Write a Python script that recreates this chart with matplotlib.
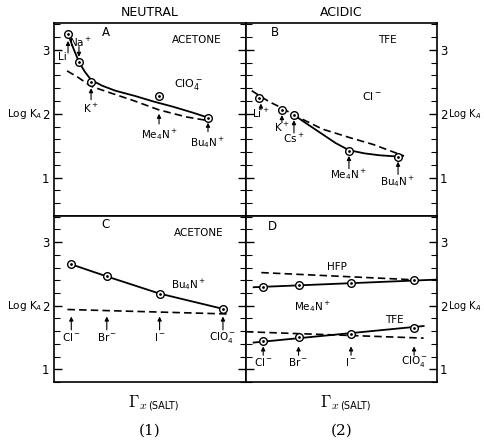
import matplotlib.pyplot as plt
from matplotlib.ticker import MultipleLocator, NullLocator

plt.rcParams['font.family'] = ['DejaVu Sans']
plt.rcParams['mathtext.fontset'] = 'dejavusans'
FS = 7.5

# panel A: neutral, acetone, ClO4- salts
cats_A = ['Li', 'Na$^+$', 'K$^+$', 'Me$_4$N$^+$', 'Bu$_4$N$^+$']
x_A = [0.073, 0.13, 0.193, 0.547, 0.802]
y_A = [3.25, 2.81, 2.50, 2.27, 1.94]
fit_x_A = [0.073, 0.10, 0.13, 0.16, 0.193, 0.25, 0.32, 0.42, 0.52, 0.62, 0.72, 0.802]
fit_y_A = [3.25, 3.03, 2.81, 2.66, 2.53, 2.44, 2.36, 2.28, 2.19, 2.11, 2.02, 1.94]
dash_x_A = [0.068, 0.12, 0.193, 0.30, 0.41, 0.547, 0.69, 0.787]
dash_y_A = [2.67, 2.58, 2.43, 2.32, 2.21, 2.06, 1.95, 1.90]

# panel B: acidic, TFE, Cl- salts
cats_B = ['Li$^+$', 'K$^+$', 'Cs$^+$', 'Me$_4$N$^+$', 'Bu$_4$N$^+$']
x_B = [0.068, 0.188, 0.251, 0.539, 0.796]
y_B = [2.25, 2.06, 1.98, 1.42, 1.33]
fit_x_B = [0.251, 0.33, 0.40, 0.47, 0.539, 0.62, 0.70, 0.796, 0.82]
fit_y_B = [1.98, 1.82, 1.68, 1.54, 1.43, 1.38, 1.35, 1.33, 1.34]
dash_x_B = [0.03, 0.12, 0.188, 0.251, 0.40, 0.55, 0.665, 0.827]
dash_y_B = [2.36, 2.19, 2.09, 1.98, 1.76, 1.62, 1.52, 1.34]

# panels C and D: anions
anions = ['Cl$^-$', 'Br$^-$', 'I$^-$', 'ClO$_4^-$']
x_an = [0.09, 0.275, 0.55, 0.88]
y_C = [2.65, 2.46, 2.19, 1.95]
dash_x_C = [0.07, 0.90]
dash_y_C = [1.94, 1.87]

y_D_hfp = [2.30, 2.33, 2.35, 2.40]
line_x_D_hfp = [0.04, 1.0]
line_y_D_hfp = [2.29, 2.41]
dash_x_D_hfp = [0.08, 0.86]
dash_y_D_hfp = [2.52, 2.41]

y_D_tfe = [1.44, 1.51, 1.55, 1.65]
line_x_D_tfe = [0.04, 0.93]
line_y_D_tfe = [1.42, 1.68]
dash_x_D_tfe = [0.0, 0.93]
dash_y_D_tfe = [1.59, 1.49]

fig = plt.figure(figsize=(4.84, 4.41), dpi=100)
L, M, R = 54 / 484, 246 / 484, 437 / 484
T, H, B = 1 - 23 / 441, 1 - 216 / 441, 1 - 382 / 441
axA = fig.add_axes([L, H, M - L, T - H])
axB = fig.add_axes([M, H, R - M, T - H])
axC = fig.add_axes([L, B, M - L, H - B])
axD = fig.add_axes([M, B, R - M, H - B])

for ax in (axA, axB, axC, axD):
    ax.set_xlim(0, 1)
    ax.xaxis.set_major_locator(NullLocator())
    ax.yaxis.set_major_locator(MultipleLocator(1))
    ax.yaxis.set_minor_locator(MultipleLocator(0.2))
    ax.tick_params(axis='y', which='both', direction='in', left=True, right=True,
                   labelsize=FS + 1)
    ax.tick_params(axis='y', which='major', length=6, width=1)
    ax.tick_params(axis='y', which='minor', length=4, width=0.8)
    for s in ax.spines.values():
        s.set_linewidth(1.2)
for ax in (axA, axB):
    ax.set_ylim(0.4, 3.42)
for ax in (axC, axD):
    ax.set_ylim(0.8, 3.41)
for ax in (axA, axC):
    ax.tick_params(axis='y', labelleft=True, labelright=False)
for ax in (axB, axD):
    ax.tick_params(axis='y', labelleft=False, labelright=True, pad=2)


def pts(ax, x, y):
    ax.plot(x, y, 'o', ms=5.5, mfc='white', mec='black', mew=1, zorder=4)
    ax.plot(x, y, '.', ms=2, color='black', zorder=5)


def arrow(ax, x, ytail, ytip):
    ax.annotate('', xy=(x, ytip), xytext=(x, ytail),
                arrowprops=dict(arrowstyle='-|>', lw=0.8, color='black',
                                mutation_scale=6, shrinkA=0, shrinkB=0))


def tag(ax, text, x, yt, ytail, ytip):
    ax.text(x, yt, text, fontsize=FS, ha='center', va='center')
    arrow(ax, x, ytail, ytip)


DASH = (4.5, 2.5)

# A
axA.plot(fit_x_A, fit_y_A, color='black', lw=1.3)
axA.plot(dash_x_A, dash_y_A, color='black', lw=1.2, dashes=DASH)
pts(axA, x_A, y_A)
axA.text(0.27, 3.27, 'A', fontsize=FS + 1, ha='center', va='center')
axA.text(0.745, 3.16, 'ACETONE', fontsize=FS, ha='center', va='center')
axA.text(0.70, 2.45, 'ClO$_4^-$', fontsize=FS + 0.5, ha='center', va='center')
axA.text(0.045, 2.89, cats_A[0], fontsize=FS, ha='center', va='center')
arrow(axA, x_A[0], y_A[0] - 0.3, y_A[0] - 0.11)
axA.text(0.14, 3.11, cats_A[1], fontsize=FS, ha='center', va='center')
arrow(axA, x_A[1], y_A[1] + 0.24, y_A[1] + 0.08)
tag(axA, cats_A[2], x_A[2], 2.09, y_A[2] - 0.28, y_A[2] - 0.1)
tag(axA, cats_A[3], x_A[3], 1.67, 1.84, 2.0)
tag(axA, cats_A[4], x_A[4], 1.55, 1.72, 1.86)
axA.text(-0.06, 2.0, 'Log K$_A$', fontsize=FS, ha='right', va='center',
         transform=axA.get_yaxis_transform())

# B
axB.plot(fit_x_B, fit_y_B, color='black', lw=1.3)
axB.plot(dash_x_B, dash_y_B, color='black', lw=1.2, dashes=DASH)
pts(axB, x_B, y_B)
axB.text(0.15, 3.27, 'B', fontsize=FS + 1, ha='center', va='center')
axB.text(0.74, 3.16, 'TFE', fontsize=FS, ha='center', va='center')
axB.text(0.66, 2.27, 'Cl$^-$', fontsize=FS + 0.5, ha='center', va='center')
tag(axB, cats_B[0], x_B[0] + 0.01, 2.0, 2.06, 2.16)
tag(axB, cats_B[1], x_B[1], 1.78, 1.86, 1.98)
tag(axB, cats_B[2], x_B[2], 1.62, 1.7, 1.9)
tag(axB, cats_B[3], x_B[3], 1.05, 1.14, 1.34)
tag(axB, cats_B[4], x_B[4], 0.94, 1.05, 1.25)
axB.text(1.06, 2.0, 'Log K$_A$', fontsize=FS - 0.5, ha='left', va='center',
         transform=axB.get_yaxis_transform())

# C
axC.plot(x_an, y_C, color='black', lw=1.3)
axC.plot(dash_x_C, dash_y_C, color='black', lw=1.2, dashes=DASH)
pts(axC, x_an, y_C)
axC.text(0.27, 3.28, 'C', fontsize=FS + 1, ha='center', va='center')
axC.text(0.755, 3.15, 'ACETONE', fontsize=FS, ha='center', va='center')
axC.text(0.70, 2.33, 'Bu$_4$N$^+$', fontsize=FS, ha='center', va='center')
for a, x in zip(anions, x_an):
    tag(axC, a, x, 1.5, 1.62, 1.83)
axC.text(-0.06, 2.0, 'Log K$_A$', fontsize=FS, ha='right', va='center',
         transform=axC.get_yaxis_transform())

# D
axD.plot(line_x_D_hfp, line_y_D_hfp, color='black', lw=1.3)
axD.plot(dash_x_D_hfp, dash_y_D_hfp, color='black', lw=1.2, dashes=DASH)
pts(axD, x_an, y_D_hfp)
axD.plot(line_x_D_tfe, line_y_D_tfe, color='black', lw=1.3)
axD.plot(dash_x_D_tfe, dash_y_D_tfe, color='black', lw=1.2, dashes=DASH)
pts(axD, x_an, y_D_tfe)
axD.text(0.14, 3.25, 'D', fontsize=FS + 1, ha='center', va='center')
axD.text(0.475, 2.61, 'HFP', fontsize=FS, ha='center', va='center')
axD.text(0.35, 1.98, 'Me$_4$N$^+$', fontsize=FS, ha='center', va='center')
axD.text(0.775, 1.78, 'TFE', fontsize=FS, ha='center', va='center')
for a, x in zip(anions, x_an):
    tag(axD, a, x, 1.12, 1.22, 1.36)
axD.text(1.06, 2.0, 'Log K$_A$', fontsize=FS - 0.5, ha='left', va='center',
         transform=axD.get_yaxis_transform())

# titles and bottom labels
fig.text((L + M) / 2, 1 - 12 / 441, 'NEUTRAL', fontsize=FS + 1.5, ha='center', va='center')
fig.text((M + R) / 2, 1 - 12 / 441, 'ACIDIC', fontsize=FS + 1.5, ha='center', va='center')
for cx, num in (((L + M) / 2, '(1)'), ((M + R) / 2, '(2)')):
    fig.text(cx - 0.005, 1 - 403 / 441, r'$\Gamma_{\mathit{x}}$', fontsize=12,
             ha='right', va='center', math_fontfamily='cm')
    fig.text(cx - 0.003, 1 - 405 / 441, '(SALT)', fontsize=FS - 0.5,
             ha='left', va='center')
    fig.text(cx, 1 - 431 / 441, num, fontsize=11, ha='center', va='center',
             family='DejaVu Serif')

fig.savefig('out.png', dpi=100)
